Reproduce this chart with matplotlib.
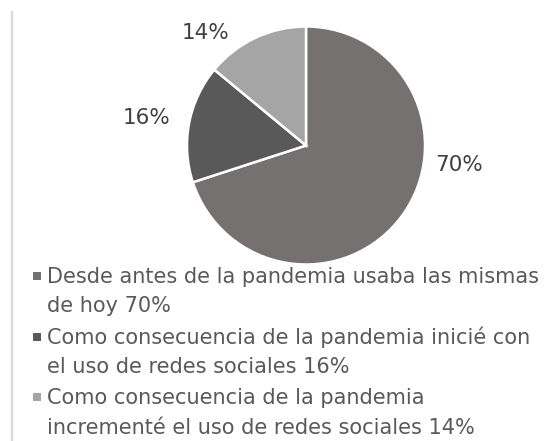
import matplotlib.pyplot as plt

# Porcentajes de uso de redes sociales
valores = [70, 16, 14]
etiquetas = [
    "Desde antes de la pandemia usaba las mismas\nde hoy 70%",
    "Como consecuencia de la pandemia inicié con\nel uso de redes sociales 16%",
    "Como consecuencia de la pandemia\nincrementé el uso de redes sociales 14%",
]
colores = ["#757171", "#595959", "#a5a5a5"]

W, H = 555, 441
fig = plt.figure(figsize=(W / 100, H / 100), dpi=100)

# Capa en pixeles para la linea lateral y la leyenda
base = fig.add_axes([0, 0, 1, 1])
base.set_xlim(0, W)
base.set_ylim(H, 0)
base.axis("off")
base.plot([12, 12], [12, H], color="#d9d9d9", lw=1.6)

# Grafico de pastel
cx, cy, r = 306, 145.5, 119
ax = fig.add_axes([(cx - r) / W, (H - cy - r) / H, 2 * r / W, 2 * r / H])
wedges, textos = ax.pie(valores, colors=colores, startangle=90, counterclock=False,
                        labels=[f"{v}%" for v in valores],
                        wedgeprops=dict(edgecolor="white", linewidth=1.8),
                        textprops=dict(fontsize=15.5, color="#404040"))
ax.set_xlim(-1, 1)
ax.set_ylim(-1, 1)

# Posicion de las etiquetas de porcentaje
pos = [(1.286, -0.160), (-1.336, 0.227), (-0.845, 0.945)]
for t, p in zip(textos, pos):
    t.set_position(p)
    t.set_ha("center")
    t.set_va("center")

# Leyenda
for i, (lab, col) in enumerate(zip(etiquetas, colores)):
    y0 = 283 + i * 60.5
    base.scatter([36.5], [y0 - 7], marker="s", s=38, color=col, linewidths=0)
    for j, linea in enumerate(lab.split("\n")):
        base.text(47, y0 + j * 29.5, linea, fontsize=15, color="#595959",
                  va="baseline", ha="left")

fig.savefig("out.png", dpi=100)
